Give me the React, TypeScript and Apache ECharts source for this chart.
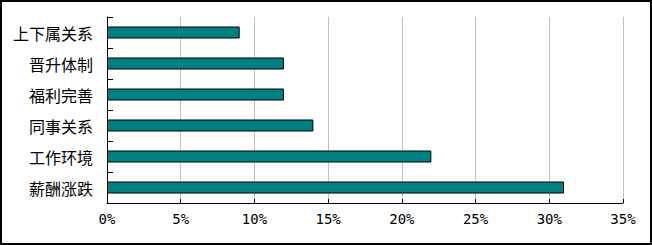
import React, { useEffect, useRef } from "react";
import * as echarts from "echarts";

const categories = ["上下属关系", "晋升体制", "福利完善", "同事关系", "工作环境", "薪酬涨跌"];
const values = [9, 12, 12, 14, 22, 31];
const xMin = 0;
const xMax = 35;
const xInterval = 5;

export default function App() {
  const ref = useRef<HTMLDivElement>(null);
  useEffect(() => {
    if (!ref.current) return;
    const chart = echarts.init(ref.current, undefined, { renderer: "svg" });
    chart.setOption({
      animation: false,
      backgroundColor: "#ffffff",
      grid: { left: 107, top: 17, right: 29, bottom: 42, containLabel: false },
      graphic: [
        {
          type: "rect",
          shape: { x: 1, y: 1, width: 650, height: 243 },
          style: { fill: "none", stroke: "#000", lineWidth: 2 },
          z: 100,
        },
      ],
      xAxis: {
        type: "value",
        min: xMin,
        max: xMax,
        interval: xInterval,
        axisLine: { show: true, lineStyle: { color: "#000", width: 1 } },
        axisTick: { show: true, inside: true, length: 4, lineStyle: { color: "#000" } },
        splitLine: { show: true, lineStyle: { color: "#c0c0c0", width: 1 } },
        axisLabel: {
          formatter: "{value}%",
          color: "#000",
          fontFamily: "DejaVu Sans Mono",
          fontSize: 14,
          margin: 9,
        },
      },
      yAxis: {
        type: "category",
        data: categories,
        inverse: true,
        axisLine: { show: true, lineStyle: { color: "#000", width: 1 } },
        axisTick: { show: true, inside: true, length: 6, lineStyle: { color: "#000" } },
        splitLine: { show: false },
        axisLabel: {
          color: "#000",
          fontFamily: "Noto Sans CJK SC",
          fontSize: 16,
          margin: 14,
        },
      },
      series: [
        {
          type: "bar",
          data: values,
          barWidth: 12,
          itemStyle: { color: "#008080", borderColor: "#000", borderWidth: 1 },
        },
      ],
    });
    return () => chart.dispose();
  }, []);
  return (
    <div
      ref={ref}
      style={{ position: "absolute", left: 0, top: 0, width: 652, height: 245 }}
    />
  );
}
